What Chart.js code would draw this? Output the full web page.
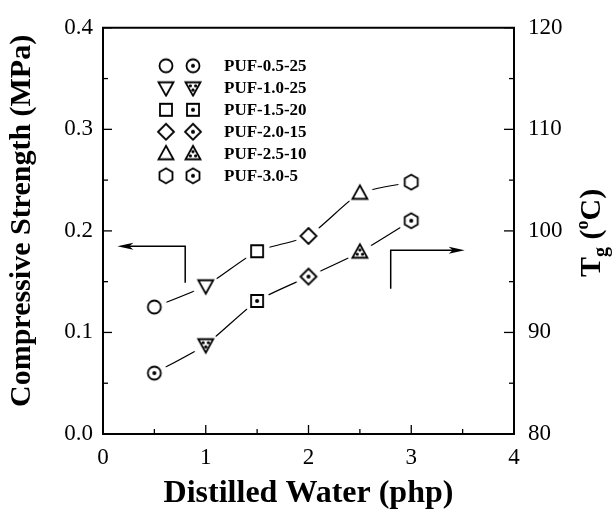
<!DOCTYPE html>
<html>
<head>
<meta charset="utf-8">
<script src="https://cdn.jsdelivr.net/npm/chart.js@4/dist/chart.umd.min.js"></script>
<style>
  html, body { margin: 0; padding: 0; background: #fff; }
  #wrap { width: 616px; height: 511px; }
</style>
</head>
<body>
<div id="wrap"><canvas id="myChart" width="616" height="511"></canvas></div>
<script>
// Data
const water = [0.5, 1.0, 1.5, 2.0, 2.5, 3.0];                  // php
const strength = [0.125, 0.146, 0.180, 0.195, 0.237, 0.248];    // MPa (left axis)
const tg = [86.0, 88.8, 93.1, 95.5, 97.9, 101.0];               // deg C (right axis)
const samples = ['PUF-0.5-25', 'PUF-1.0-25', 'PUF-1.5-20', 'PUF-2.0-15', 'PUF-2.5-10', 'PUF-3.0-5'];
const shapes = ['circle', 'triangleDown', 'square', 'diamond', 'triangle', 'hexagon'];

// Axis ranges / tick steps
const xRange = [0, 4], xStep = 0.5;
const yRange = [0, 0.4], yStep = 0.05;
const y2Range = [80, 120], y2Step = 5;

// Arrow annotations in data units: [x of vertical, y from, y to, x of arrow tip]
const leftArrow = { x: 0.8, y1: 0.149, y2: 0.185, tip: 0.14 };
const rightArrow = { x: 2.8, y1: 94.3, y2: 98.1, tip: 3.52 };

const serif = '"Liberation Serif", "DejaVu Serif", serif';

// Build marker images
function shapePath(ctx, shape, c) {
  ctx.beginPath();
  if (shape === 'circle') {
    ctx.arc(c, c, 6.5, 0, Math.PI * 2);
  } else if (shape === 'square') {
    ctx.rect(c - 6, c - 6, 12, 12);
  } else if (shape === 'diamond') {
    ctx.moveTo(c, c - 8); ctx.lineTo(c + 8, c); ctx.lineTo(c, c + 8); ctx.lineTo(c - 8, c); ctx.closePath();
  } else if (shape === 'triangle') {
    ctx.moveTo(c, c - 8); ctx.lineTo(c + 7.5, c + 5.5); ctx.lineTo(c - 7.5, c + 5.5); ctx.closePath();
  } else if (shape === 'triangleDown') {
    ctx.moveTo(c, c + 8); ctx.lineTo(c + 7.5, c - 5.5); ctx.lineTo(c - 7.5, c - 5.5); ctx.closePath();
  } else if (shape === 'hexagon') {
    for (let i = 0; i < 6; i++) {
      const a = -Math.PI / 2 + i * Math.PI / 3;
      const px = c + 7.5 * Math.cos(a), py = c + 7.5 * Math.sin(a);
      if (i === 0) ctx.moveTo(px, py); else ctx.lineTo(px, py);
    }
    ctx.closePath();
  }
}

function makeMarker(shape, dotted, halo) {
  const s = 34, c = s / 2;
  const cv = document.createElement('canvas');
  cv.width = s; cv.height = s;
  const ctx = cv.getContext('2d');
  if (halo) {
    ctx.fillStyle = '#fff';
    ctx.beginPath(); ctx.arc(c, c, 13, 0, Math.PI * 2); ctx.fill();
  }
  shapePath(ctx, shape, c);
  ctx.fillStyle = '#fff';
  ctx.fill();
  ctx.lineWidth = 1.8;
  ctx.strokeStyle = '#000';
  ctx.stroke();
  if (dotted) {
    ctx.fillStyle = '#000';
    if (shape === 'triangle' || shape === 'triangleDown') {
      const d = shape === 'triangle' ? 1 : -1;
      const pts = [[0, -2.2 * d], [-2.6, 2 * d], [2.6, 2 * d]];
      pts.forEach(p => { ctx.beginPath(); ctx.arc(c + p[0], c + p[1], 1.6, 0, Math.PI * 2); ctx.fill(); });
    } else {
      ctx.beginPath(); ctx.arc(c, c, 2, 0, Math.PI * 2); ctx.fill();
    }
  }
  return cv;
}

const openMarkers = shapes.map(s => makeMarker(s, false, true));
const dotMarkers = shapes.map(s => makeMarker(s, true, true));

// Inner ticks, frame, arrows, legend and the two y titles
const decorPlugin = {
  id: 'decor',
  afterDraw(chart) {
    const ctx = chart.ctx;
    const { left, right, top, bottom } = chart.chartArea;
    const x = chart.scales.x, y = chart.scales.y, y2 = chart.scales.y2;
    ctx.save();
    ctx.strokeStyle = '#000';
    ctx.lineWidth = 1.3;
    // ticks pointing inward
    x.ticks.forEach(t => {
      const px = x.getPixelForValue(t.value);
      const len = Number.isInteger(t.value) ? 9 : 5;
      ctx.beginPath(); ctx.moveTo(px, bottom); ctx.lineTo(px, bottom - len); ctx.stroke();
    });
    y.ticks.forEach(t => {
      const py = y.getPixelForValue(t.value);
      const major = Math.abs(t.value * 10 - Math.round(t.value * 10)) < 1e-6;
      ctx.beginPath(); ctx.moveTo(left, py); ctx.lineTo(left + (major ? 9 : 5), py); ctx.stroke();
    });
    y2.ticks.forEach(t => {
      const py = y2.getPixelForValue(t.value);
      const major = t.value % 10 === 0;
      ctx.beginPath(); ctx.moveTo(right, py); ctx.lineTo(right - (major ? 10 : 5), py); ctx.stroke();
    });
    // top border
    ctx.lineWidth = 2;
    ctx.beginPath(); ctx.moveTo(left - 1, top); ctx.lineTo(right + 1, top); ctx.stroke();

    // arrows
    function arrow(xv, y1v, y2v, tipv, scaleY) {
      const ax = x.getPixelForValue(xv);
      const ay1 = scaleY.getPixelForValue(y1v);
      const ay2 = scaleY.getPixelForValue(y2v);
      const tx = x.getPixelForValue(tipv);
      const dir = tx < ax ? -1 : 1;
      ctx.lineWidth = 1.5;
      ctx.beginPath(); ctx.moveTo(ax, ay1); ctx.lineTo(ax, ay2); ctx.lineTo(tx - dir * 6, ay2); ctx.stroke();
      ctx.fillStyle = '#000';
      ctx.beginPath();
      ctx.moveTo(tx, ay2);
      ctx.lineTo(tx - dir * 16, ay2 - 3.5);
      ctx.lineTo(tx - dir * 12, ay2);
      ctx.lineTo(tx - dir * 16, ay2 + 3.5);
      ctx.closePath(); ctx.fill();
    }
    arrow(leftArrow.x, leftArrow.y1, leftArrow.y2, leftArrow.tip, y);
    arrow(rightArrow.x, rightArrow.y1, rightArrow.y2, rightArrow.tip, y2);

    // legend
    ctx.font = 'bold 17px ' + serif;
    ctx.fillStyle = '#000';
    ctx.textBaseline = 'middle';
    ctx.textAlign = 'left';
    const lx = left + 63, rowH = 22, ly = top + 38;
    samples.forEach((name, i) => {
      const cy = ly + i * rowH;
      ctx.drawImage(openMarkers[i], lx - 17, cy - 17);
      ctx.drawImage(dotMarkers[i], lx + 27 - 17, cy - 17);
      ctx.fillText(name, lx + 58, cy + 1);
    });

    // left axis title
    ctx.save();
    ctx.translate(22, (top + bottom) / 2 - 10);
    ctx.rotate(-Math.PI / 2);
    ctx.textAlign = 'center';
    ctx.textBaseline = 'middle';
    ctx.font = 'bold 30px ' + serif;
    ctx.fillText('Compressive Strength (MPa)', 0, 0);
    ctx.restore();

    // right axis title: T_g (oC), rotated
    ctx.textAlign = 'left';
    ctx.translate(590, (top + bottom) / 2 + 2);
    ctx.rotate(-Math.PI / 2);
    const parts = [
      { t: 'T', size: 30, dy: 0 },
      { t: 'g', size: 20, dy: 7 },
      { t: ' (', size: 30, dy: 0 },
      { t: 'o', size: 18, dy: -12 },
      { t: 'C)', size: 30, dy: 0 }
    ];
    let w = 0;
    parts.forEach(p => { ctx.font = 'bold ' + p.size + 'px ' + serif; p.w = ctx.measureText(p.t).width; w += p.w; });
    let cx = -w / 2;
    ctx.textBaseline = 'alphabetic';
    parts.forEach(p => {
      ctx.font = 'bold ' + p.size + 'px ' + serif;
      ctx.fillText(p.t, cx, 10 + p.dy);
      cx += p.w;
    });
    ctx.restore();
  }
};

const tickFont = { family: serif, size: 23 };

new Chart(document.getElementById('myChart'), {
  type: 'line',
  data: {
    datasets: [
      {
        label: 'Compressive Strength',
        data: water.map((v, i) => ({ x: v, y: strength[i] })),
        yAxisID: 'y',
        borderColor: '#000',
        borderWidth: 1.2,
        tension: 0.2,
        pointStyle: openMarkers,
        pointRadius: 8,
        pointHoverRadius: 8
      },
      {
        label: 'Tg',
        data: water.map((v, i) => ({ x: v, y: tg[i] })),
        yAxisID: 'y2',
        borderColor: '#000',
        borderWidth: 1.2,
        tension: 0.2,
        pointStyle: dotMarkers,
        pointRadius: 8,
        pointHoverRadius: 8
      }
    ]
  },
  options: {
    responsive: false,
    animation: false,
    layout: { padding: { top: 26 } },
    plugins: { legend: { display: false }, tooltip: { enabled: false } },
    scales: {
      x: {
        type: 'linear',
        min: xRange[0], max: xRange[1],
        grid: { display: false, drawTicks: false },
        border: { display: true, color: '#000', width: 2 },
        ticks: {
          stepSize: xStep, color: '#000', font: tickFont, padding: 10, maxRotation: 0,
          callback: v => Number.isInteger(v) ? String(v) : ''
        },
        title: { display: true, text: 'Distilled Water (php)', color: '#000',
                 font: { family: serif, size: 32, weight: 'bold', lineHeight: 1 }, padding: { top: 0, bottom: 1 } },
        afterFit: s => { s.height = 77; }
      },
      y: {
        position: 'left',
        min: yRange[0], max: yRange[1],
        grid: { display: false, drawTicks: false },
        border: { display: true, color: '#000', width: 2 },
        ticks: {
          stepSize: yStep, color: '#000', font: tickFont, padding: 10,
          callback: v => Math.abs(v * 10 - Math.round(v * 10)) < 1e-6 ? v.toFixed(1) : ''
        },
        afterFit: s => { s.width = 103; }
      },
      y2: {
        position: 'right',
        min: y2Range[0], max: y2Range[1],
        grid: { display: false, drawTicks: false },
        border: { display: true, color: '#000', width: 2 },
        ticks: {
          stepSize: y2Step, color: '#000', font: tickFont, padding: 14,
          callback: v => v % 10 === 0 ? String(v) : ''
        },
        afterFit: s => { s.width = 102; }
      }
    }
  },
  plugins: [decorPlugin]
});
</script>
</body>
</html>
